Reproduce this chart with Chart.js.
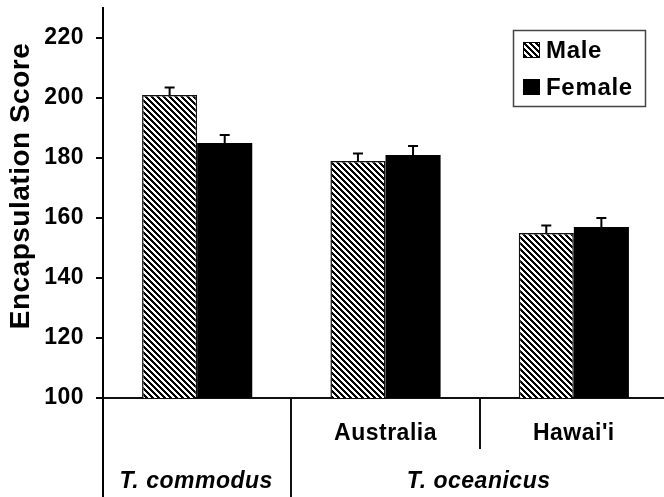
<!DOCTYPE html>
<html>
<head>
<meta charset="utf-8">
<script src="https://cdn.jsdelivr.net/npm/chart.js@4"></script>
<style>
  html, body { margin: 0; padding: 0; background: #fff; }
  #wrap { width: 664px; height: 497px; overflow: hidden; position: relative; }
  canvas { display: block; }
</style>
</head>
<body>
<div id="wrap"><canvas id="c" width="668" height="497"></canvas></div>
<script>
// ---- data ----
const categories = ['T. commodus', 'Australia', "Hawai'i"];
const subLabels = ['', 'Australia', "Hawai'i"];
const groupLabels = ['T. commodus', 'T. oceanicus'];
const groupSpans = [[0, 0], [1, 2]];
const seriesNames = ['Male', 'Female'];
const maleValues = [201, 179, 155];
const femaleValues = [185, 181, 157];
const maleErrors = [2.5, 2.5, 2.5];
const femaleErrors = [2.7, 3.0, 3.0];
const yTicks = [100, 120, 140, 160, 180, 200, 220];
const yTitle = 'Encapsulation Score';

// ---- hatch pattern ----
function makeHatch() {
  const p = document.createElement('canvas');
  p.width = 6; p.height = 6;
  const g = p.getContext('2d');
  g.fillStyle = '#fff';
  g.fillRect(0, 0, 6, 6);
  g.fillStyle = '#000';
  for (let y = 0; y < 6; y++) {
    for (let x = 0; x < 6; x++) {
      if ((((x - y) % 6) + 6) % 6 < 3) g.fillRect(x, y, 1, 1);
    }
  }
  return document.getElementById('c').getContext('2d').createPattern(p, 'repeat');
}
const hatch = makeHatch();

const errors = [maleErrors, femaleErrors];
const FONT = '"Liberation Sans", Arial, sans-serif';
const SPACING = '0.5px';

const decor = {
  id: 'decor',
  beforeUpdate(chart) { chart.ctx.letterSpacing = SPACING; },
  beforeDraw(chart) { chart.ctx.letterSpacing = SPACING; },
  afterDatasetsDraw(chart) {
    const ctx = chart.ctx;
    const ys = chart.scales.y;
    ctx.save();
    ctx.strokeStyle = '#000';
    ctx.lineWidth = 2;
    chart.data.datasets.forEach((ds, di) => {
      const meta = chart.getDatasetMeta(di);
      meta.data.forEach((bar, i) => {
        const top = ys.getPixelForValue(ds.data[i] + errors[di][i]);
        ctx.beginPath();
        ctx.moveTo(bar.x, bar.y);
        ctx.lineTo(bar.x, top);
        ctx.moveTo(bar.x - 5, top);
        ctx.lineTo(bar.x + 5, top);
        ctx.stroke();
      });
    });
    ctx.restore();
  },
  afterDraw(chart) {
    const ctx = chart.ctx;
    const xs = chart.scales.x;
    const ca = chart.chartArea;
    const H = chart.height;
    ctx.save();
    // y axis extension below x axis
    ctx.strokeStyle = '#000';
    ctx.lineWidth = 2;
    ctx.beginPath();
    ctx.moveTo(ca.left, ca.bottom);
    ctx.lineTo(ca.left, H);
    ctx.stroke();
    // separators
    ctx.strokeStyle = '#111';
    ctx.beginPath();
    const s1 = Math.round(xs.getPixelForValue(0.5));
    ctx.moveTo(s1, ca.bottom);
    ctx.lineTo(s1, H);
    const s2 = Math.round(xs.getPixelForValue(1.5));
    ctx.moveTo(s2, ca.bottom);
    ctx.lineTo(s2, ca.bottom + 51);
    ctx.stroke();
    // sub labels
    ctx.fillStyle = '#000';
    ctx.letterSpacing = SPACING;
    ctx.font = 'bold 23px ' + FONT;
    ctx.textAlign = 'center';
    ctx.textBaseline = 'middle';
    subLabels.forEach((t, i) => {
      if (t) ctx.fillText(t, xs.getPixelForValue(i), ca.bottom + 36);
    });
    // group labels
    ctx.font = 'italic bold 23px ' + FONT;
    groupLabels.forEach((t, i) => {
      const mid = (groupSpans[i][0] + groupSpans[i][1]) / 2;
      ctx.fillText(t, xs.getPixelForValue(mid) - 1, ca.bottom + 84);
    });
    // y title
    ctx.save();
    ctx.translate(21, 186);
    ctx.rotate(-Math.PI / 2);
    ctx.font = 'bold 28px ' + FONT;
    ctx.letterSpacing = '0.5px';
    ctx.fillText(yTitle, 0, 0);
    ctx.restore();
    // legend
    const bx = 513, by = 30, bw = 132, bh = 76;
    ctx.strokeStyle = '#444';
    ctx.lineWidth = 1.5;
    ctx.strokeRect(bx + 0.5, by + 0.5, bw, bh);
    const rows = [50, 87];
    chart.data.datasets.forEach((ds, di) => {
      const cy = rows[di];
      ctx.fillStyle = ds.backgroundColor;
      ctx.fillRect(523, cy - 8, 17, 16);
      ctx.strokeStyle = '#000';
      ctx.lineWidth = 1;
      ctx.strokeRect(523.5, cy - 7.5, 16, 15);
      ctx.fillStyle = '#000';
      ctx.font = 'bold 24px ' + FONT;
      ctx.letterSpacing = '0.7px';
      ctx.textAlign = 'left';
      ctx.textBaseline = 'middle';
      ctx.fillText(ds.label, 546, cy + 1);
    });
    ctx.restore();
  }
};

new Chart(document.getElementById('c'), {
  type: 'bar',
  data: {
    labels: categories,
    datasets: [
      {
        label: seriesNames[0],
        data: maleValues,
        backgroundColor: hatch,
        borderColor: '#111',
        borderWidth: 1.5,
        borderSkipped: 'bottom'
      },
      {
        label: seriesNames[1],
        data: femaleValues,
        backgroundColor: '#000',
        borderWidth: 0
      }
    ]
  },
  options: {
    responsive: false,
    animation: false,
    devicePixelRatio: 1,
    layout: { padding: { top: 8, left: 0, right: 0, bottom: 0 } },
    datasets: { bar: { categoryPercentage: 0.585, barPercentage: 1.0 } },
    plugins: { legend: { display: false }, tooltip: { enabled: false } },
    scales: {
      x: {
        offset: true,
        grid: { display: false },
        border: { display: true, color: '#111', width: 2 },
        ticks: { display: false },
        afterFit(scale) { scale.height = 99; scale.paddingLeft = 0; scale.paddingRight = 0; }
      },
      y: {
        min: 100,
        max: 230,
        afterBuildTicks(scale) { scale.ticks = yTicks.map(v => ({ value: v })); },
        grid: { display: true, drawOnChartArea: false, color: '#000', lineWidth: 2, tickLength: 7 },
        border: { display: true, color: '#000', width: 2 },
        ticks: {
          color: '#000',
          padding: 12,
          font: { family: FONT, size: 23, weight: 'bold' }
        },
        afterFit(scale) { scale.width = 103; scale.paddingTop = 0; scale.paddingBottom = 0; }
      }
    }
  },
  plugins: [decor]
});
</script>
</body>
</html>
